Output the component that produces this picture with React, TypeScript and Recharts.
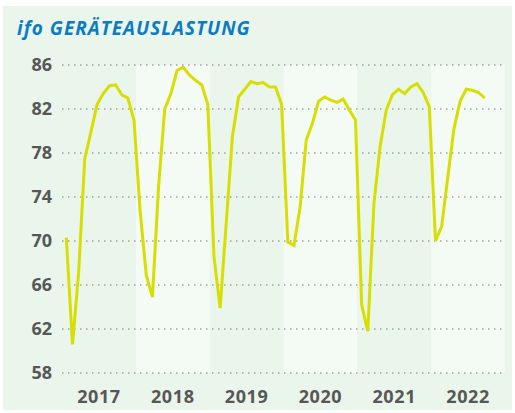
import React from 'react';
import {
  LineChart,
  Line,
  XAxis,
  YAxis,
  ReferenceArea,
  ReferenceLine,
} from 'recharts';

const years = ['2017', '2018', '2019', '2020', '2021', '2022'];

// monthly values, Jan 2017 .. Sep 2022
const util2017 = [70.3, 60.6, 67.1, 77.5, 79.9, 82.4, 83.4, 84.1, 84.2, 83.3, 83.0, 81.0];
const util2018 = [72.7, 66.9, 64.9, 75.0, 82.0, 83.4, 85.5, 85.8, 85.1, 84.6, 84.2, 82.4];
const util2019 = [68.6, 63.9, 71.7, 79.5, 83.1, 83.8, 84.5, 84.3, 84.4, 84.0, 84.0, 82.4];
const util2020 = [69.9, 69.6, 73.1, 79.2, 80.7, 82.7, 83.1, 82.8, 82.6, 82.9, 81.9, 81.0];
const util2021 = [64.2, 61.8, 73.4, 78.6, 81.9, 83.3, 83.8, 83.4, 84.0, 84.3, 83.5, 82.2];
const util2022 = [70.0, 71.3, 75.8, 80.2, 82.7, 83.8, 83.7, 83.5, 83.0];

const yTicks = [58, 62, 66, 70, 74, 78, 82, 86];

const allValues = [...util2017, ...util2018, ...util2019, ...util2020, ...util2021, ...util2022];
const data = allValues.map((v, i) => ({ m: i + 0.7, value: v }));
const yearTicks = years.map((_, i) => i * 12 + 6);

const tickStyle = { fill: '#575757', fontSize: 18, fontWeight: 700, fontFamily: 'Open Sans' };

const App: React.FC = () => {
  return (
    <div style={{ position: 'absolute', left: 0, top: 0, width: 515, height: 413, background: '#fff' }}>
      <div style={{ position: 'absolute', left: 3, top: 6, width: 509, height: 404, background: '#eaf5ec' }} />
      <div
        style={{
          position: 'absolute',
          left: 17,
          top: 15,
          fontFamily: 'Open Sans',
          fontWeight: 700,
          fontStyle: 'italic',
          fontSize: 19,
          letterSpacing: 1,
          color: '#0a7dc2',
          whiteSpace: 'nowrap',
        }}
      >
        ifo GERÄTEAUSLASTUNG
      </div>
      <div style={{ position: 'absolute', left: 0, top: 0 }}>
        <LineChart width={515} height={413} data={data} margin={{ top: 65, right: 10, bottom: 0, left: 0 }}>
          {years.map((y, i) =>
            i % 2 === 1 ? (
              <ReferenceArea key={y} x1={i * 12} x2={i * 12 + 12} y1={58} y2={86} fill="#f4faf4" fillOpacity={1} stroke="none" />
            ) : null
          )}
          {yTicks.map((t) => (
            <ReferenceLine key={t} y={t} stroke="#7a7a7a" strokeDasharray="1.5 4.5" />
          ))}
          <XAxis
            type="number"
            dataKey="m"
            domain={[0, 72]}
            ticks={yearTicks}
            tickFormatter={(v: number) => years[Math.floor(v / 12)]}
            axisLine={false}
            tickLine={false}
            tickSize={0}
            tickMargin={17}
            height={40}
            tick={{ ...tickStyle, letterSpacing: 0.6 }}
          />
          <YAxis
            domain={[58, 86]}
            ticks={yTicks}
            axisLine={false}
            tickLine={false}
            tickSize={0}
            tickMargin={10}
            width={62}
            tick={tickStyle}
          />
          <Line
            type="linear"
            dataKey="value"
            stroke="#d6df00"
            strokeWidth={3}
            dot={false}
            isAnimationActive={false}
          />
        </LineChart>
      </div>
    </div>
  );
};

export default App;
